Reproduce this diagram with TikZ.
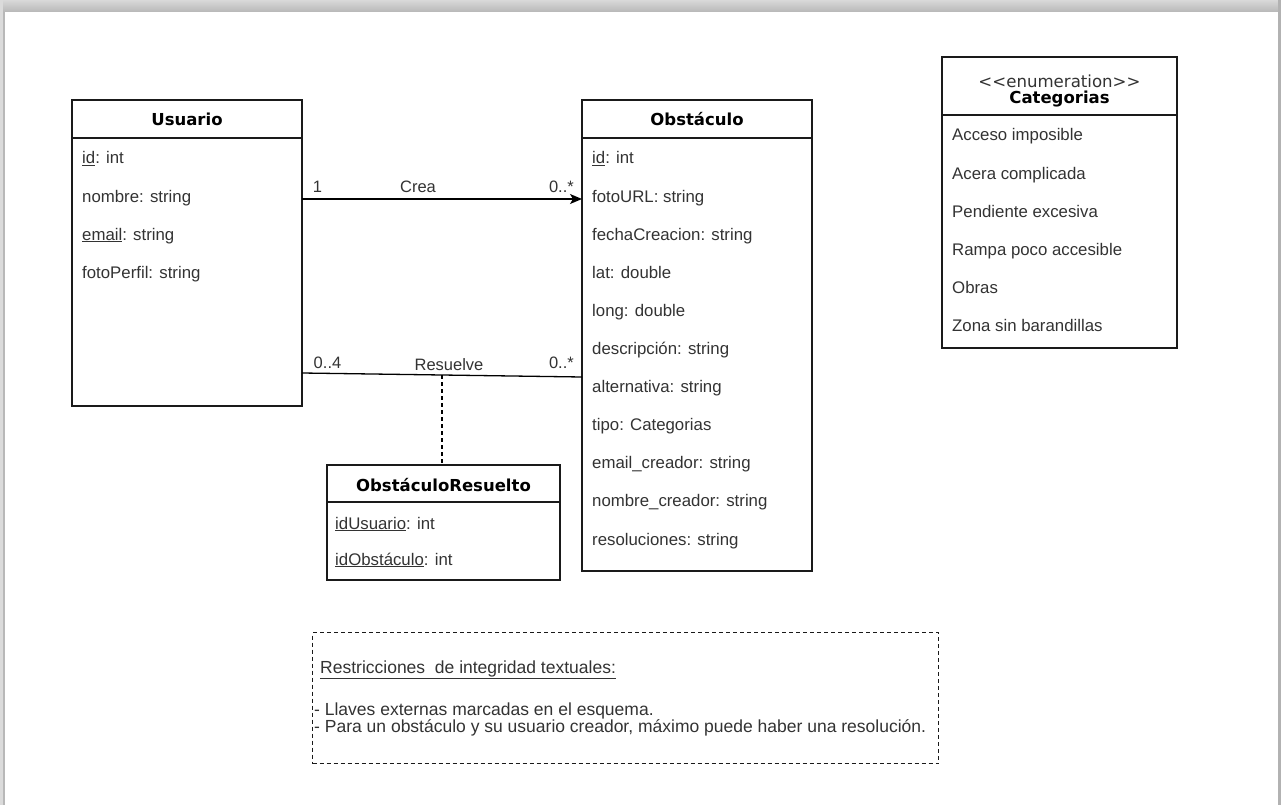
\documentclass[tikz,border=0pt]{standalone}
\usepackage{fontspec}
\setmainfont{Liberation Sans}
\newfontfamily\hdfont{DejaVu Sans}
\usetikzlibrary{arrows.meta,calc}
\definecolor{ink}{HTML}{333333}
\definecolor{edge}{HTML}{1A1A1A}
\tikzset{
  classbox/.style={draw=edge, line width=1.3pt, anchor=north west, inner sep=0pt, outer sep=0pt, fill=white},
  sepline/.style={draw=edge, line width=1.2pt},
  attr/.style={anchor=base west, inner sep=0pt, text=ink, font=\fontsize{16.8}{19}\selectfont},
  lbl/.style={anchor=base, inner sep=0pt, text=ink, font=\fontsize{16.5}{19}\selectfont},
  ctitle/.style={anchor=base, inner sep=0pt, text=black, font=\hdfont\bfseries\fontsize{16.5}{19}\selectfont},
  stereo/.style={anchor=base, inner sep=0pt, text=ink, font=\hdfont\fontsize{16.6}{19}\selectfont},
  conn/.style={draw=black, line width=1.3pt},
  linkdash/.style={draw=black, line width=1.1pt, dash pattern=on 3.5pt off 3.5pt},
  notebox/.style={draw=edge, line width=1.1pt, dash pattern=on 4pt off 3pt, anchor=north west, inner sep=0pt},
  notetext/.style={anchor=base west, inner sep=0pt, text=ink, font=\fontsize{17.5}{17}\selectfont}
}
\begin{document}
\begin{tikzpicture}[x=1pt,y=-1pt]
\useasboundingbox (0,0) rectangle (1281,805);
% window frame
\fill[white] (0,0) rectangle (1281,805);
\shade[top color=black!15, bottom color=black!28] (0,0) rectangle (1281,12);
\fill[black!14] (0,0) rectangle (3,805);
\fill[black!28] (3,12) rectangle (5,805);
\fill[black!30] (1278,0) rectangle (1281,805);

% Usuario
\node[classbox, minimum width=230pt, minimum height=306pt] (usu) at (72,100) {};
\draw[sepline] ($(usu.north west)+(0,38)$) -- ($(usu.north east)+(0,38)$);
\node[ctitle] (usuT) at (187,126) {Usuario};
\node[attr] (u1) at (82,164) {\underline{id}: int};
\node[attr] (u2) at (82,202) {nombre: string};
\node[attr] (u3) at (82,240) {\underline{email}: string};
\node[attr] (u4) at (82,278) {fotoPerfil: string};

% Obstaculo
\node[classbox, minimum width=230pt, minimum height=471pt] (obs) at (582,100) {};
\draw[sepline] ($(obs.north west)+(0,38)$) -- ($(obs.north east)+(0,38)$);
\node[ctitle] (obsT) at (697,126) {Obstáculo};
\node[attr] (o1) at (592,164) {\underline{id}: int};
\node[attr] (o2) at (592,202.1) {fotoURL: string};
\node[attr] (o3) at (592,240.2) {fechaCreacion: string};
\node[attr] (o4) at (592,278.3) {lat: double};
\node[attr] (o5) at (592,316.4) {long: double};
\node[attr] (o6) at (592,354.5) {descripción: string};
\node[attr] (o7) at (592,392.6) {alternativa: string};
\node[attr] (o8) at (592,430.7) {tipo: Categorias};
\node[attr] (o9) at (592,468.8) {email\_creador: string};
\node[attr] (o10) at (592,506.9) {nombre\_creador: string};
\node[attr] (o11) at (592,545) {resoluciones: string};

% Categorias
\node[classbox, minimum width=235pt, minimum height=291pt] (cat) at (942,57) {};
\draw[sepline] ($(cat.north west)+(0,58)$) -- ($(cat.north east)+(0,58)$);
\node[stereo] (catS) at (1059.5,88) {<<enumeration>>};
\node[ctitle] (catT) at (1059.5,104) {Categorias};
\node[attr] (c1) at (952,141) {Acceso imposible};
\node[attr] (c2) at (952,179) {Acera complicada};
\node[attr] (c3) at (952,217) {Pendiente excesiva};
\node[attr] (c4) at (952,255) {Rampa poco accesible};
\node[attr] (c5) at (952,293) {Obras};
\node[attr] (c6) at (952,331) {Zona sin barandillas};

% ObstaculoResuelto
\node[classbox, minimum width=233pt, minimum height=115pt] (res) at (327,465) {};
\draw[sepline] ($(res.north west)+(0,37)$) -- ($(res.north east)+(0,37)$);
\node[ctitle] (resT) at (443.5,491) {ObstáculoResuelto};
\node[attr] (r1) at (335,529) {\underline{idUsuario}: int};
\node[attr] (r2) at (335,565) {\underline{idObstáculo}: int};

% Crea
\coordinate (creaA) at ($(usu.north east)+(0,99)$);
\coordinate (creaB) at ($(obs.north west)+(0,99)$);
\draw[conn, -{Stealth[length=12pt,width=10pt,inset=3pt]}] (creaA) -- (creaB);
\node[lbl] (creaL1) at (317.5,193) {1};
\node[lbl] (creaL) at (418,193) {Crea};
\node[lbl, anchor=base east] (creaL2) at (574,193) {0..*};

% Resuelve
\coordinate (resA) at ($(usu.north east)+(0,273)$);
\coordinate (resB) at ($(obs.north west)+(0,277)$);
\draw[conn] (resA) -- coordinate[pos=0.5] (rmid) (resB);
\draw[linkdash] (rmid) -- (rmid |- res.north);
\node[lbl] (resL1) at (327.5,368) {0..4};
\node[lbl] (resL) at (449,370) {Resuelve};
\node[lbl, anchor=base east] (resL2) at (574,368) {0..*};

% textual constraints note
\node[notebox, minimum width=626pt, minimum height=131pt] (note) at (312,632) {};
\node[notetext] (n1) at (320,673) {\underline{Restricciones\ \ de integridad textuales:}};
\node[notetext] (n2) at (314,715) {- Llaves externas marcadas en el esquema.};
\node[notetext] (n3) at (314,732) {- Para un obstáculo y su usuario creador, máximo puede haber una resolución.};
\end{tikzpicture}
\end{document}
